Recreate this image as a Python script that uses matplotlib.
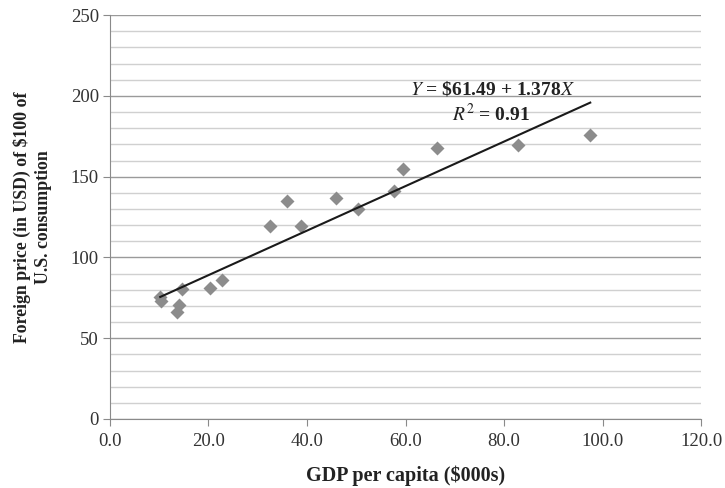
import numpy as np
import matplotlib.pyplot as plt
from matplotlib.ticker import MultipleLocator, FormatStrFormatter

plt.rcParams['font.family'] = ['Liberation Serif', 'DejaVu Serif']

# GDP per capita ($000s) and foreign price of $100 of US consumption
gdp = [10.2, 10.4, 13.7, 14.1, 14.6, 20.4, 22.7, 32.4, 35.9, 38.7,
       45.8, 50.4, 57.7, 59.4, 66.3, 82.9, 97.5]
price = [75.5, 73.0, 66.0, 70.5, 80.3, 81.3, 86.0, 119.6, 134.7, 119.4,
         136.8, 130.1, 140.9, 154.5, 167.9, 169.4, 176.0]

# trend line coefficients as printed on the chart
intercept = 61.49
slope = 1.378
eq_text = '$\\mathit{Y}$ = \\$61.49 + 1.378$\\mathit{X}$'
r2_text = '$\\mathit{R}^2$ = 0.91'

fig = plt.figure(figsize=(7.25, 4.88), dpi=100)
ax = fig.add_axes([0.1517, 0.1414, 0.8153, 0.8276])

ax.set_xlim(0, 120)
ax.set_ylim(0, 250)
ax.xaxis.set_major_locator(MultipleLocator(20))
ax.xaxis.set_major_formatter(FormatStrFormatter('%.1f'))
ax.yaxis.set_major_locator(MultipleLocator(50))
ax.yaxis.set_minor_locator(MultipleLocator(10))

ax.grid(axis='y', which='major', color='#9a9a9a', lw=1.0)
ax.grid(axis='y', which='minor', color='#d0d0d0', lw=1.0)
ax.set_axisbelow(True)

for s in ['top', 'right']:
    ax.spines[s].set_visible(False)
for s in ['left', 'bottom']:
    ax.spines[s].set_color('#8a8a8a')
ax.tick_params(which='major', direction='out', length=5, color='#8a8a8a',
               labelsize=13.5, labelcolor='#333333')
ax.tick_params(which='minor', length=0)
ax.tick_params(axis='x', pad=5)
ax.tick_params(axis='y', pad=3)

ax.plot(gdp, price, 'D', color='#8c8c8c', ms=7.5, mec='none', zorder=3)

xs = np.array([min(gdp), max(gdp)])
ax.plot(xs, intercept + slope * xs, color='#1a1a1a', lw=1.5, zorder=4)

ax.text(77.7, 204.5, eq_text, ha='center', va='center', fontsize=14,
        fontweight='bold', color='#222222', math_fontfamily='stix')
ax.text(77.3, 188.5, r2_text, ha='center', va='center', fontsize=14,
        fontweight='bold', color='#222222', math_fontfamily='stix')

ax.set_xlabel('GDP per capita ($000s)', fontsize=14.5, fontweight='bold',
              va='center', color='#222222')
ax.xaxis.set_label_coords(0.5, -0.141)
ax.set_ylabel('Foreign price (in USD) of \\$100 of\nU.S. consumption',
              fontsize=12.8, fontweight='bold', va='center', ha='center',
              color='#222222', linespacing=1.3)
ax.yaxis.set_label_coords(-0.131, 0.5)

fig.savefig('out.png', dpi=100)
